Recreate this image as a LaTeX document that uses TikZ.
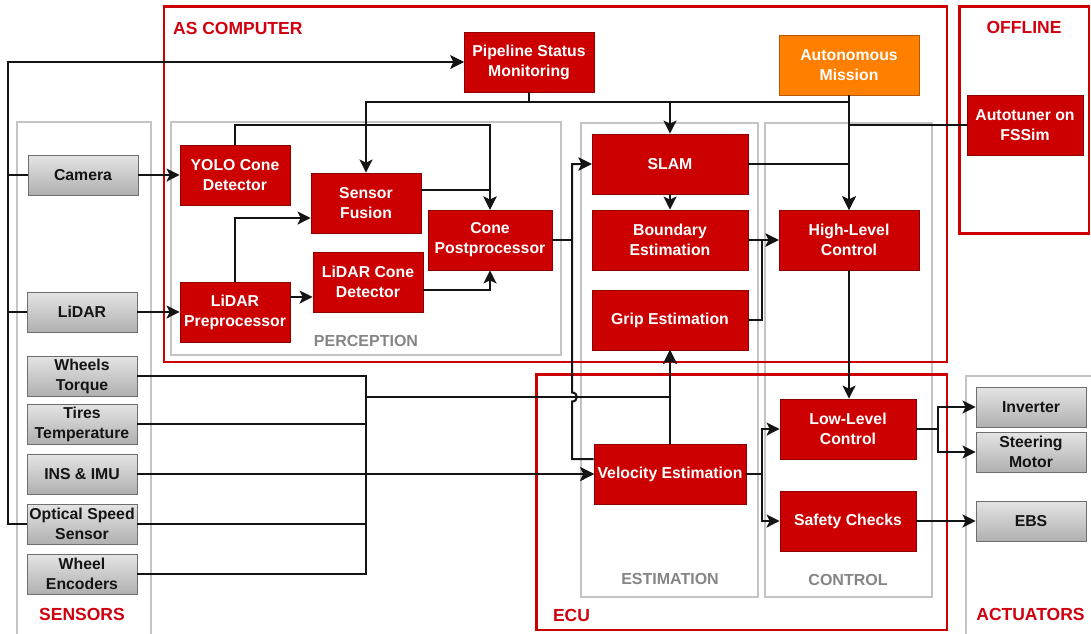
\documentclass[tikz,border=0pt]{standalone}
\usepackage{fontspec}
\setmainfont{Liberation Sans}
\usetikzlibrary{arrows.meta,calc}
\definecolor{myred}{HTML}{CC0000}
\definecolor{mydarkred}{HTML}{8F0000}
\definecolor{myorange}{HTML}{FF8000}
\definecolor{myorangeb}{HTML}{B35A00}
\definecolor{labred}{HTML}{D0000F}
\definecolor{boxgray}{HTML}{C4C4C4}
\definecolor{labgray}{HTML}{858585}
\definecolor{gtop}{HTML}{E4E4E4}
\definecolor{gbot}{HTML}{B0B0B0}
\definecolor{gborder}{HTML}{6E6E6E}
\definecolor{linec}{HTML}{141414}
\tikzset{
  nodefont/.style={font=\bfseries\fontsize{15.8}{20}\selectfont},
  rnode/.style={nodefont, fill=myred, draw=mydarkred, line width=0.8pt, text=white, align=center, inner sep=0pt, minimum height=60pt},
  onode/.style={rnode, fill=myorange, draw=myorangeb},
  gnode/.style={nodefont, top color=gtop, bottom color=gbot, draw=gborder, line width=0.9pt, text=linec, align=center, inner sep=0pt, minimum width=110pt, minimum height=40pt},
  redbox/.style={draw=myred, line width=2.8pt},
  graybox/.style={draw=boxgray, line width=2pt},
  redlab/.style={font=\bfseries\fontsize{17.5}{20}\selectfont, text=labred, inner sep=0pt},
  graylab/.style={font=\bfseries\fontsize{16}{20}\selectfont, text=labgray, inner sep=0pt},
  wire/.style={draw=linec, line width=2pt},
  arr/.style={wire, -{Stealth[length=13pt,width=13pt,inset=3pt]}},
}
\begin{document}
\begin{tikzpicture}[x=1pt,y=-1pt]
\path[use as bounding box, clip] (0,0) rectangle (1091,633);
\fill[white] (0,0) rectangle (1091,633);

% containers
\draw[graybox] (17,122) rectangle (151,640);
\draw[graybox] (171,122) rectangle (561,355);
\draw[graybox] (581,123) rectangle (758,597);
\draw[graybox] (765,123) rectangle (932,597);
\draw[graybox] (966,376) rectangle (1100,640);
\draw[redbox] (164,6.5) rectangle (947,362);
\draw[redbox] (959.5,6.5) rectangle (1089,233.5);
\draw[redbox] (536.5,374.5) rectangle (947,630);

% container labels
\node[redlab, anchor=west] (lab-as) at (173,28) {AS COMPUTER};
\node[redlab] (lab-off) at (1024,27) {OFFLINE};
\node[redlab] (lab-sens) at (82,614) {SENSORS};
\node[redlab] (lab-ecu) at (571.5,615) {ECU};
\node[redlab] (lab-act) at (1030.5,614) {ACTUATORS};
\node[graylab] (lab-per) at (366,341) {PERCEPTION};
\node[graylab] (lab-est) at (670,579) {ESTIMATION};
\node[graylab] (lab-con) at (848,580) {CONTROL};

% red nodes
\node[rnode, minimum width=130pt] (pipe) at (529,62) {Pipeline Status\\Monitoring};
\node[onode, minimum width=140pt] (am) at (849,65) {Autonomous\\Mission};
\node[rnode, minimum width=116pt] (at) at (1025,125) {Autotuner on\\FSSim};
\node[rnode, minimum width=110pt] (yolo) at (235,175) {YOLO Cone\\Detector};
\node[rnode, minimum width=110pt] (sf) at (366,203) {Sensor\\Fusion};
\node[rnode, minimum width=124pt] (cp) at (490,240) {Cone\\Postprocessor};
\node[rnode, minimum width=110pt] (lcd) at (368,282) {LiDAR Cone\\Detector};
\node[rnode, minimum width=110pt] (lp) at (235,312) {LiDAR\\Preprocessor};
\node[rnode, minimum width=156pt] (slam) at (670,164) {SLAM};
\node[rnode, minimum width=156pt] (be) at (670,240) {Boundary\\Estimation};
\node[rnode, minimum width=156pt] (ge) at (670,320) {Grip Estimation};
\node[rnode, minimum width=140pt] (hl) at (849,240) {High-Level\\Control};
\node[rnode, minimum width=136pt] (ll) at (848,429) {Low-Level\\Control};
\node[rnode, minimum width=136pt] (sc) at (848,521) {Safety Checks};
\node[rnode, minimum width=152pt] (ve) at (670,474) {Velocity Estimation};

% gray nodes
\node[gnode] (cam) at (83,175) {Camera};
\node[gnode] (lid) at (82,312) {LiDAR};
\node[gnode] (wt) at (82,376) {Wheels\\Torque};
\node[gnode] (tt) at (82,424) {Tires\\Temperature};
\node[gnode] (ins) at (82,474) {INS \& IMU};
\node[gnode] (os) at (82,524) {Optical Speed\\Sensor};
\node[gnode] (we) at (82,574) {Wheel\\Encoders};
\node[gnode] (inv) at (1031,407) {Inverter};
\node[gnode] (st) at (1031,452) {Steering\\Motor};
\node[gnode] (ebs) at (1031,521) {EBS};

% helper coordinates
\coordinate (lbus) at (8,62);
\coordinate (pj) at (529,102);
\coordinate (busG) at (366,397);
\coordinate (busV) at (366,474);
\coordinate (sj) at (572,164);
\coordinate (hopB) at (572,401.5);
\coordinate (hopT) at (572,392.5);
\coordinate (lpo) at ([yshift=15pt]lp.east);

% sensors -> pipeline monitoring
\draw[arr] (cam.west) -| (lbus) -- (pipe.west);
\draw[arr] (lid.west) -| (lbus) -- (pipe.west);
\draw[arr] (os.west) -| (lbus) -- (pipe.west);

% perception
\draw[arr] (cam.east) -- (yolo.west);
\draw[arr] (lid.east) -- (lp.west);
\draw[arr] (yolo.north) -- ++(0,-20) -| (cp.north);
\draw[arr] ([yshift=13pt]sf.east) -| (cp.north);
\draw[arr] (lp.north) |- ([yshift=-15pt]sf.west);
\draw[arr] (lpo) -- (lpo -| lcd.west);
\draw[arr] ([yshift=-8pt]lcd.east) -| (cp.south);

% pipeline monitoring outputs
\draw[arr] (pipe.south) -- (pj) -| (sf.north);
\draw[arr] (pipe.south) -- (pj) -| (slam.north);
\draw[arr] (pipe.south) -- (pj) -| (hl.north);

% estimation
\draw[arr] (cp.east) -| (sj) -- (slam.west);
\draw[arr] ([yshift=15pt]ve.west) -| (hopB) .. controls (578.5,401.5) and (578.5,392.5) .. (hopT) -- (sj) -- (slam.west);
\draw[arr] (slam.south) -- (be.north);
\draw[arr] (ve.north) -- (ge.south);

% sensors -> grip / velocity
\draw[arr] (wt.east) -| (busG) -| (ge.south);
\draw[arr] (tt.east) -| (busG) -| (ge.south);
\draw[arr] (ins.east) -| (busG) -| (ge.south);
\draw[arr] (os.east) -| (busG) -| (ge.south);
\draw[arr] (we.east) -| (busG) -| (ge.south);
\draw[arr] (wt.east) -| (busV) -- (ve.west);
\draw[arr] (tt.east) -| (busV) -- (ve.west);
\draw[arr] (ins.east) -- (ve.west);
\draw[arr] (os.east) -| (busV) -- (ve.west);
\draw[arr] (we.east) -| (busV) -- (ve.west);

% high-level control inputs
\draw[arr] (am.south) -- (hl.north);
\draw[arr] (at.west) -| (hl.north);
\draw[arr] (slam.east) -| (hl.north);
\draw[arr] (be.east) -- (hl.west);
\draw[arr] (ge.east) -- ++(14,0) |- (hl.west);

% control
\draw[arr] (hl.south) -- (hl.south |- ll.north);
\draw[arr] (ve.east) -- ++(16,0) |- (ll.west);
\draw[arr] (ve.east) -- ++(16,0) |- (sc.west);
\draw[arr] (ll.east) -- ++(22,0) |- (inv.west);
\draw[arr] (ll.east) -- ++(22,0) |- (st.west);
\draw[arr] (sc.east) -- (sc.east -| ebs.west);
\end{tikzpicture}
\end{document}
